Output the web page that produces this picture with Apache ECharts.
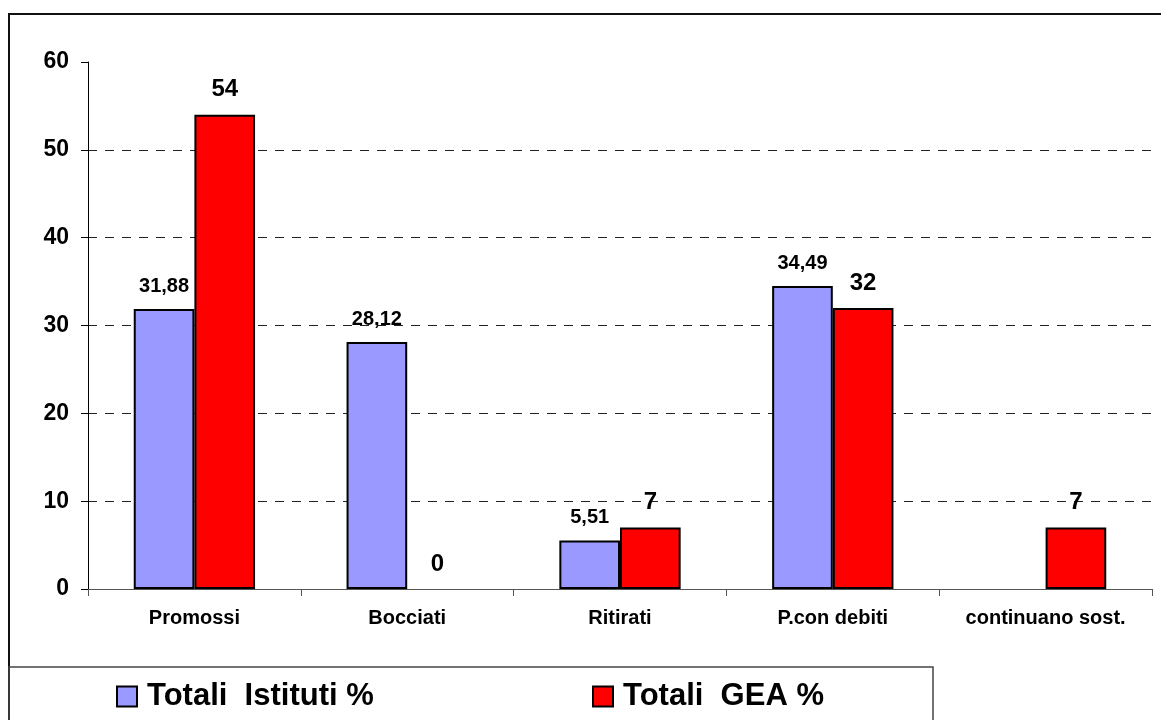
<!DOCTYPE html>
<html>
<head>
<meta charset="utf-8">
<script src="https://cdn.jsdelivr.net/npm/echarts@6/dist/echarts.min.js"></script>
<style>
  html, body { margin: 0; padding: 0; background: #fff; }
  #chart { width: 1161px; height: 720px; }
</style>
</head>
<body>
<div id="chart"></div>
<script>
const categories = ['Promossi', 'Bocciati', 'Ritirati', 'P.con debiti', 'continuano sost.']
const istitutiValues = [31.88, 28.12, 5.51, 34.49, null]
const geaValues = [54, 0, 7, 32, 7]
const seriesNames = ['Totali  Istituti %', 'Totali  GEA %']

const font = 'Liberation Sans, Arial, sans-serif'
const chart = echarts.init(document.getElementById('chart'))

// valori con la virgola decimale, come nell'originale
const commaLabel = p => (p.value == null ? '' : String(p.value).replace('.', ','))
// una barra a zero non deve lasciare il bordo nero sull'asse
const noZeroBorder = arr => arr.map(v => (v === 0 ? { value: v, itemStyle: { borderWidth: 0 } } : v))

const legendBase = {
  top: 681,
  padding: 0,
  icon: 'rect',
  itemWidth: 20,
  itemHeight: 20,
  itemStyle: { borderColor: '#000', borderWidth: 2 },
  textStyle: { fontSize: 31, fontWeight: 'bold', color: '#000', fontFamily: font, padding: [0, 0, 0, 5] },
}

const opt = {
  animation: false,
  textStyle: { fontFamily: font },
  grid: { left: 88, right: 9, top: 62, bottom: 131 },
  legend: [
    Object.assign({}, legendBase, { data: [seriesNames[0]], left: 116 }),
    Object.assign({}, legendBase, { data: [seriesNames[1]], left: 592 }),
  ],
  graphic: [
    {
      type: 'rect',
      shape: { x: 9, y: 14, width: 1200, height: 800 },
      style: { fill: 'none', stroke: '#111', lineWidth: 2 },
      z: -1,
    },
    {
      type: 'rect',
      shape: { x: 9, y: 667, width: 924, height: 100 },
      style: { fill: 'none', stroke: '#444', lineWidth: 1.5 },
    },
  ],
  xAxis: {
    type: 'category',
    data: categories,
    axisLine: { lineStyle: { color: '#555', width: 1 } },
    axisTick: { show: true, length: 7, lineStyle: { color: '#555' } },
    axisLabel: { fontSize: 20, fontWeight: 'bold', color: '#000', margin: 19, fontFamily: font },
  },
  yAxis: {
    type: 'value',
    min: 0,
    max: 60,
    interval: 10,
    axisLine: { show: true, lineStyle: { color: '#000', width: 1 } },
    axisTick: { show: true, length: 7, lineStyle: { color: '#000' } },
    axisLabel: { fontSize: 23, fontWeight: 'bold', color: '#000', margin: 19, fontFamily: font },
    splitLine: {
      show: true,
      showMaxLine: false,
      showMinLine: false,
      lineStyle: { color: '#222', type: [9, 8], width: 1 },
    },
  },
  series: [
    {
      name: seriesNames[0],
      type: 'bar',
      data: istitutiValues,
      barGap: '0%',
      barCategoryGap: '43%',
      itemStyle: { color: '#9999FF', borderColor: '#000', borderWidth: 2 },
      label: {
        show: true,
        position: 'top',
        distance: 13,
        fontSize: 20,
        fontWeight: 'bold',
        color: '#000',
        fontFamily: font,
        formatter: commaLabel,
      },
    },
    {
      name: seriesNames[1],
      type: 'bar',
      data: noZeroBorder(geaValues),
      barGap: '0%',
      barCategoryGap: '43%',
      itemStyle: { color: '#FF0000', borderColor: '#000', borderWidth: 2 },
      label: {
        show: true,
        position: 'top',
        distance: 13,
        fontSize: 24,
        fontWeight: 'bold',
        color: '#000',
        fontFamily: font,
        formatter: commaLabel,
      },
    },
  ],
}

chart.setOption(opt)
</script>
</body>
</html>
